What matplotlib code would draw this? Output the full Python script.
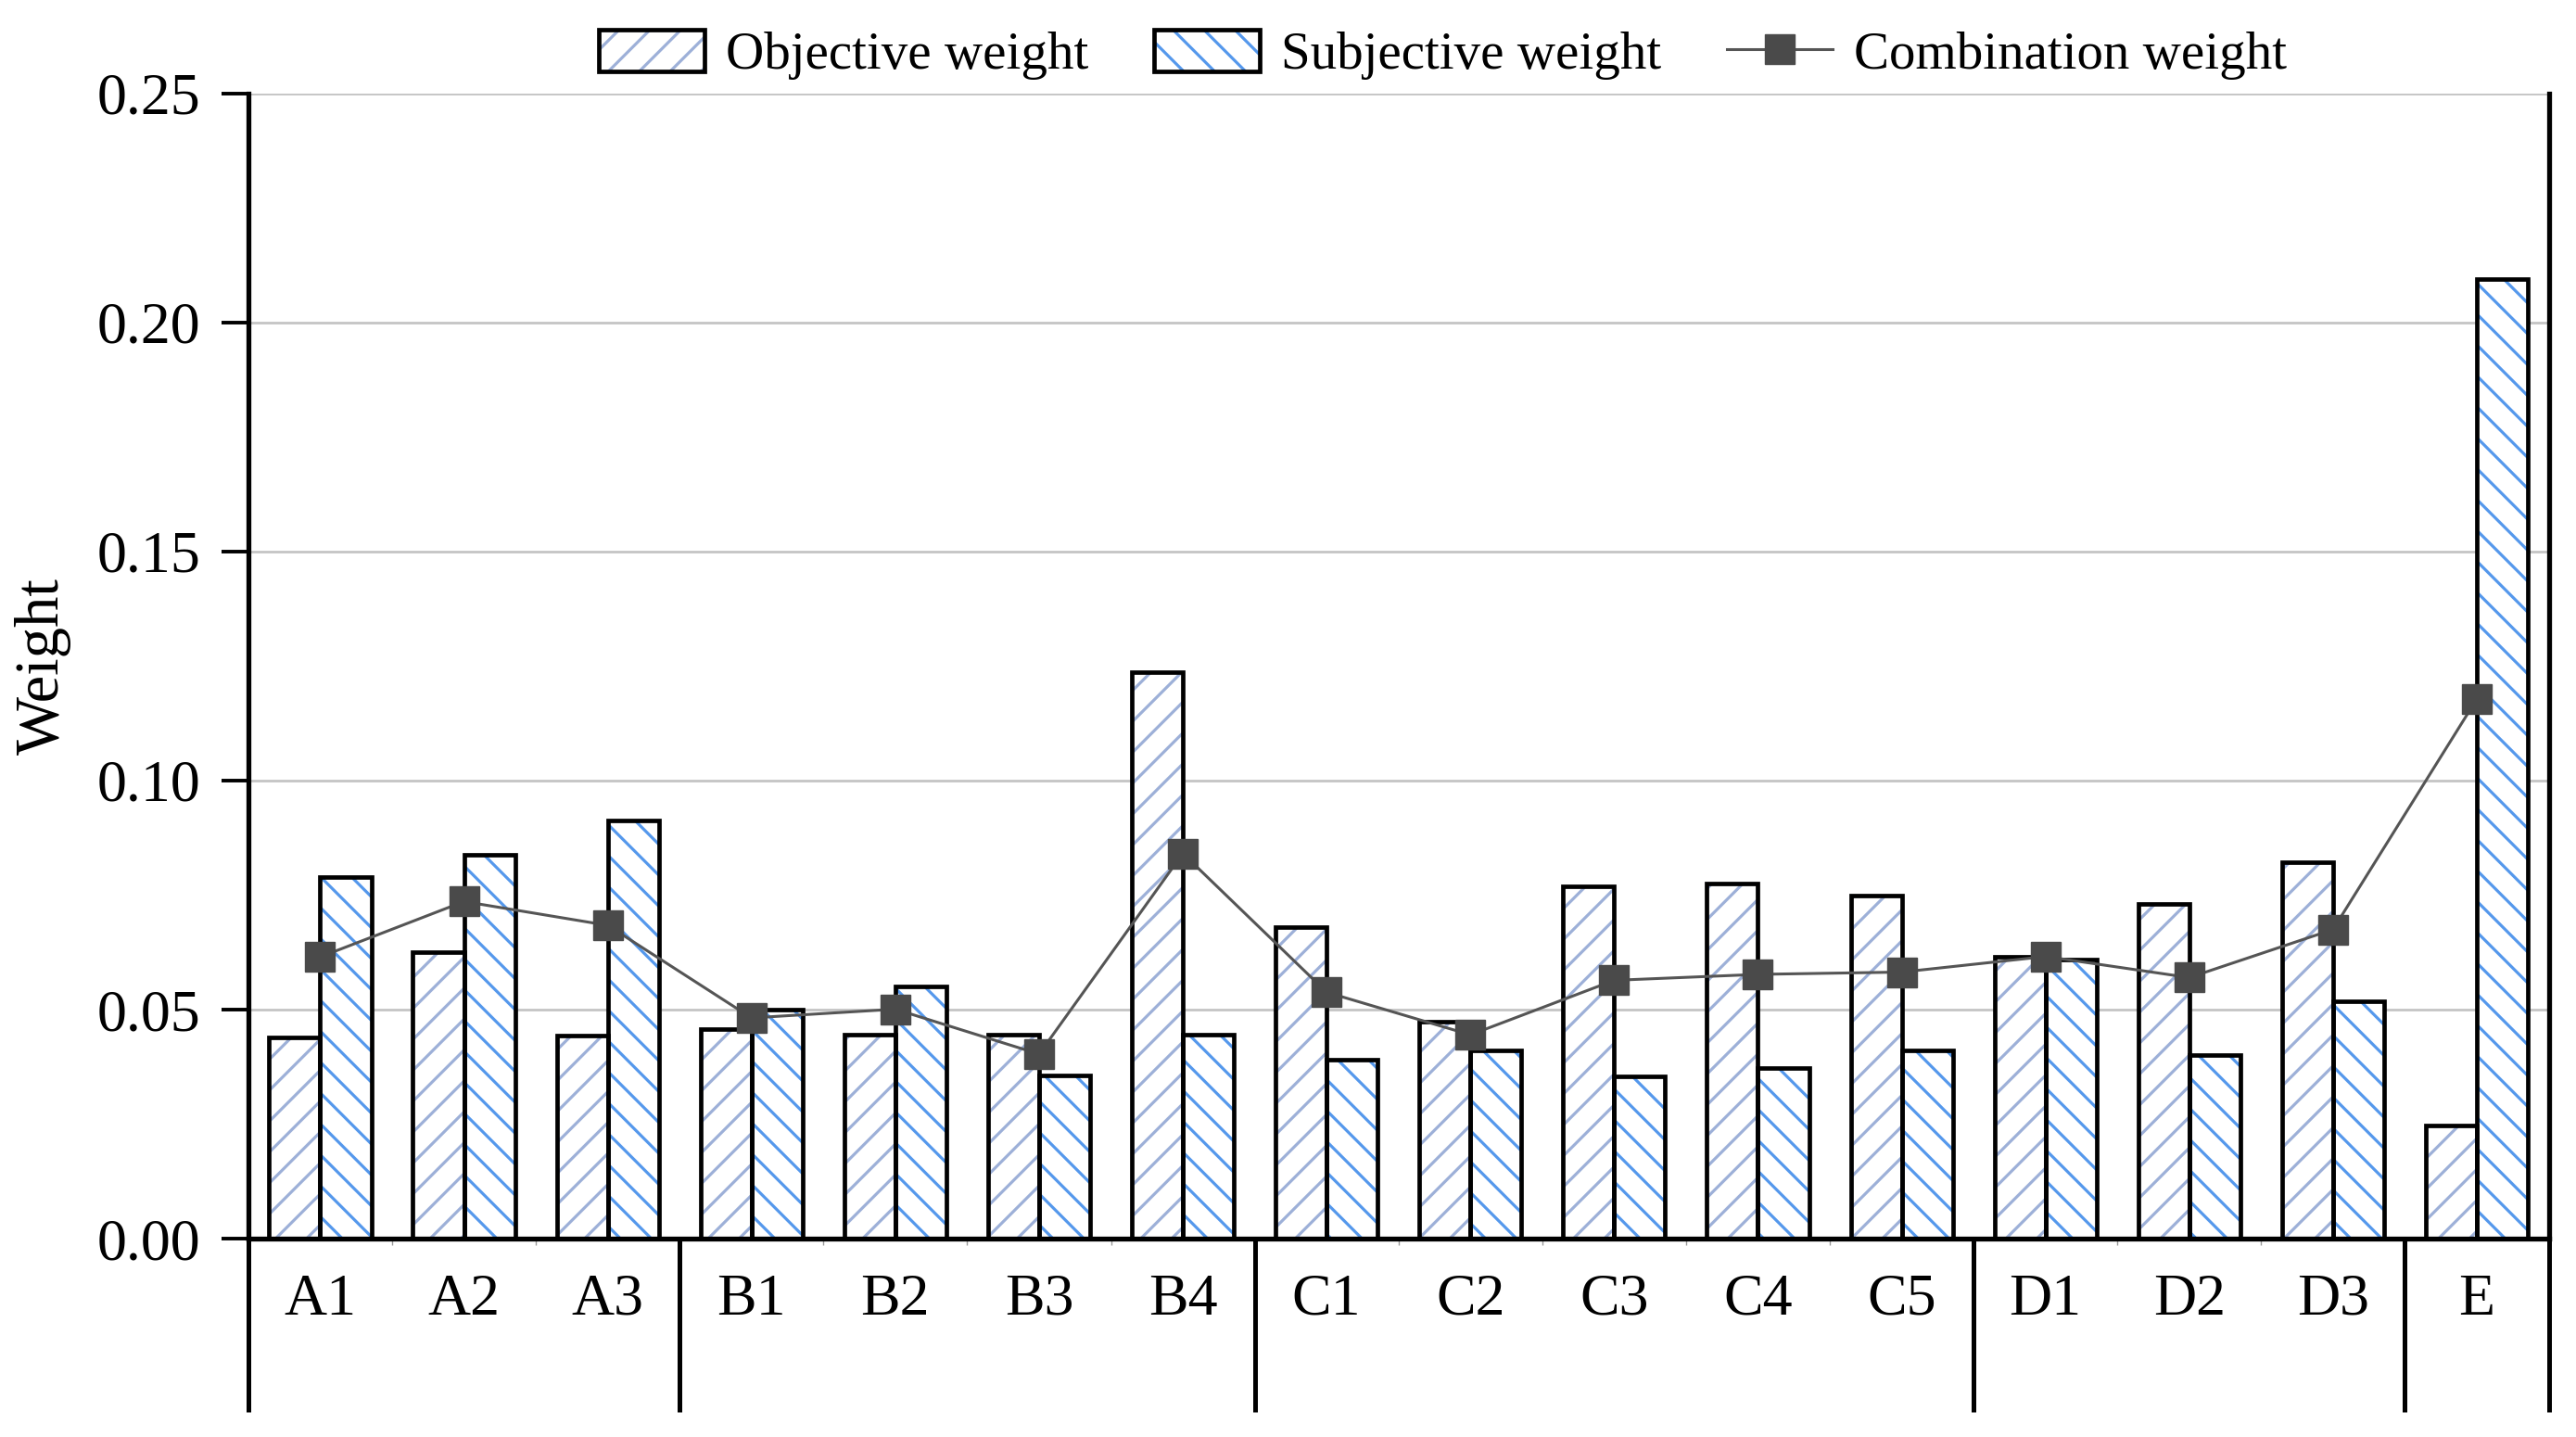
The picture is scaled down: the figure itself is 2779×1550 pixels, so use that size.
import numpy as np
import matplotlib
matplotlib.use('Agg')
import matplotlib.pyplot as plt
from matplotlib.patches import Patch
from matplotlib.lines import Line2D
from matplotlib.legend_handler import HandlerTuple
from matplotlib.ticker import FormatStrFormatter

# data
categories = ['A1', 'A2', 'A3', 'B1', 'B2', 'B3', 'B4', 'C1', 'C2', 'C3', 'C4', 'C5',
              'D1', 'D2', 'D3', 'E']
objective = [0.0440, 0.0625, 0.0444, 0.0458, 0.0445, 0.0445, 0.1237, 0.0680, 0.0474,
             0.0770, 0.0775, 0.0749, 0.0616, 0.0730, 0.0822, 0.0248]
subjective = [0.0789, 0.0838, 0.0913, 0.0500, 0.0551, 0.0356, 0.0445, 0.0391, 0.0411,
              0.0354, 0.0373, 0.0411, 0.0610, 0.0400, 0.0519, 0.2094]
combination = [0.0615, 0.0736, 0.0684, 0.0482, 0.0501, 0.0403, 0.0841, 0.0538, 0.0445,
               0.0564, 0.0577, 0.0582, 0.0616, 0.0570, 0.0675, 0.1178]
group_sizes = [3, 4, 5, 3, 1]

plt.rcParams['font.family'] = ['Liberation Serif', 'DejaVu Serif']
plt.rcParams['hatch.linewidth'] = 2.3

obj_hatch = '#9db0d8'
subj_hatch = '#5598ec'

fig = plt.figure(figsize=(27.79, 15.5), dpi=100)
ax = fig.add_axes([0.0964, 0.138, 0.893, 0.797])

x = np.arange(len(categories))
w = 0.355

# hatch layer, then black outline on top
ax.bar(x - w / 2, objective, w, color='white', edgecolor=obj_hatch, hatch='/', linewidth=0, zorder=2)
ax.bar(x + w / 2, subjective, w, color='white', edgecolor=subj_hatch, hatch='\\', linewidth=0, zorder=2)
ax.bar(x - w / 2, objective, w, fill=False, edgecolor='black', linewidth=3.4, zorder=3)
ax.bar(x + w / 2, subjective, w, fill=False, edgecolor='black', linewidth=3.4, zorder=3)

ax.plot(x, combination, color='#555555', lw=2.2, marker='s', ms=23,
        mfc='#4a4a4a', mec='#4a4a4a', zorder=5)

ax.set_xlim(-0.5, len(categories) - 0.5)
ax.set_ylim(0, 0.25)
ax.set_yticks(np.arange(0, 0.251, 0.05))
ax.yaxis.set_major_formatter(FormatStrFormatter('%.2f'))
ax.yaxis.grid(True, color='#c4c4c4', lw=2.0)
ax.set_axisbelow(True)

ax.set_xticks(x)
ax.set_xticklabels(categories)
ax.set_xticks(np.arange(0.5, len(categories) - 1, 1), minor=True)
ax.tick_params(axis='x', which='major', length=0, pad=27, labelsize=46)
ax.tick_params(axis='x', which='minor', length=5, width=1, color='#999999')
ax.tick_params(axis='y', direction='out', length=21, width=2.8, pad=16, labelsize=46)

ax.spines['top'].set_visible(False)
for s in ['left', 'right', 'bottom']:
    ax.spines[s].set_linewidth(3.8)

# group separators below the axis
bounds = np.concatenate([[-0.5], np.cumsum(group_sizes) - 0.5])
for b in bounds:
    ax.plot([b, b], [0, -0.151], color='black', lw=3.6, transform=ax.get_xaxis_transform(),
            clip_on=False, solid_capstyle='butt')

ax.set_ylabel('Weight', fontsize=48)
ax.yaxis.set_label_coords(-0.077, 0.5)

h_obj = (Patch(facecolor='white', edgecolor=obj_hatch, hatch='/', linewidth=0),
         Patch(fill=False, edgecolor='black', linewidth=3.4))
h_subj = (Patch(facecolor='white', edgecolor=subj_hatch, hatch='\\', linewidth=0),
          Patch(fill=False, edgecolor='black', linewidth=3.4))
h_comb = Line2D([], [], color='#555555', lw=2.2, marker='s', ms=23, mfc='#4a4a4a', mec='#4a4a4a')
fig.legend([h_obj, h_subj, h_comb], ['Objective weight', 'Subjective weight', 'Combination weight'],
           loc='center', bbox_to_anchor=(0.56, 0.962), ncol=3, frameon=False, fontsize=41,
           handlelength=2.0, handleheight=0.85, handletextpad=0.4, columnspacing=1.25,
           handler_map={tuple: HandlerTuple(ndivide=1)})

fig.savefig('out.png', dpi=100)
